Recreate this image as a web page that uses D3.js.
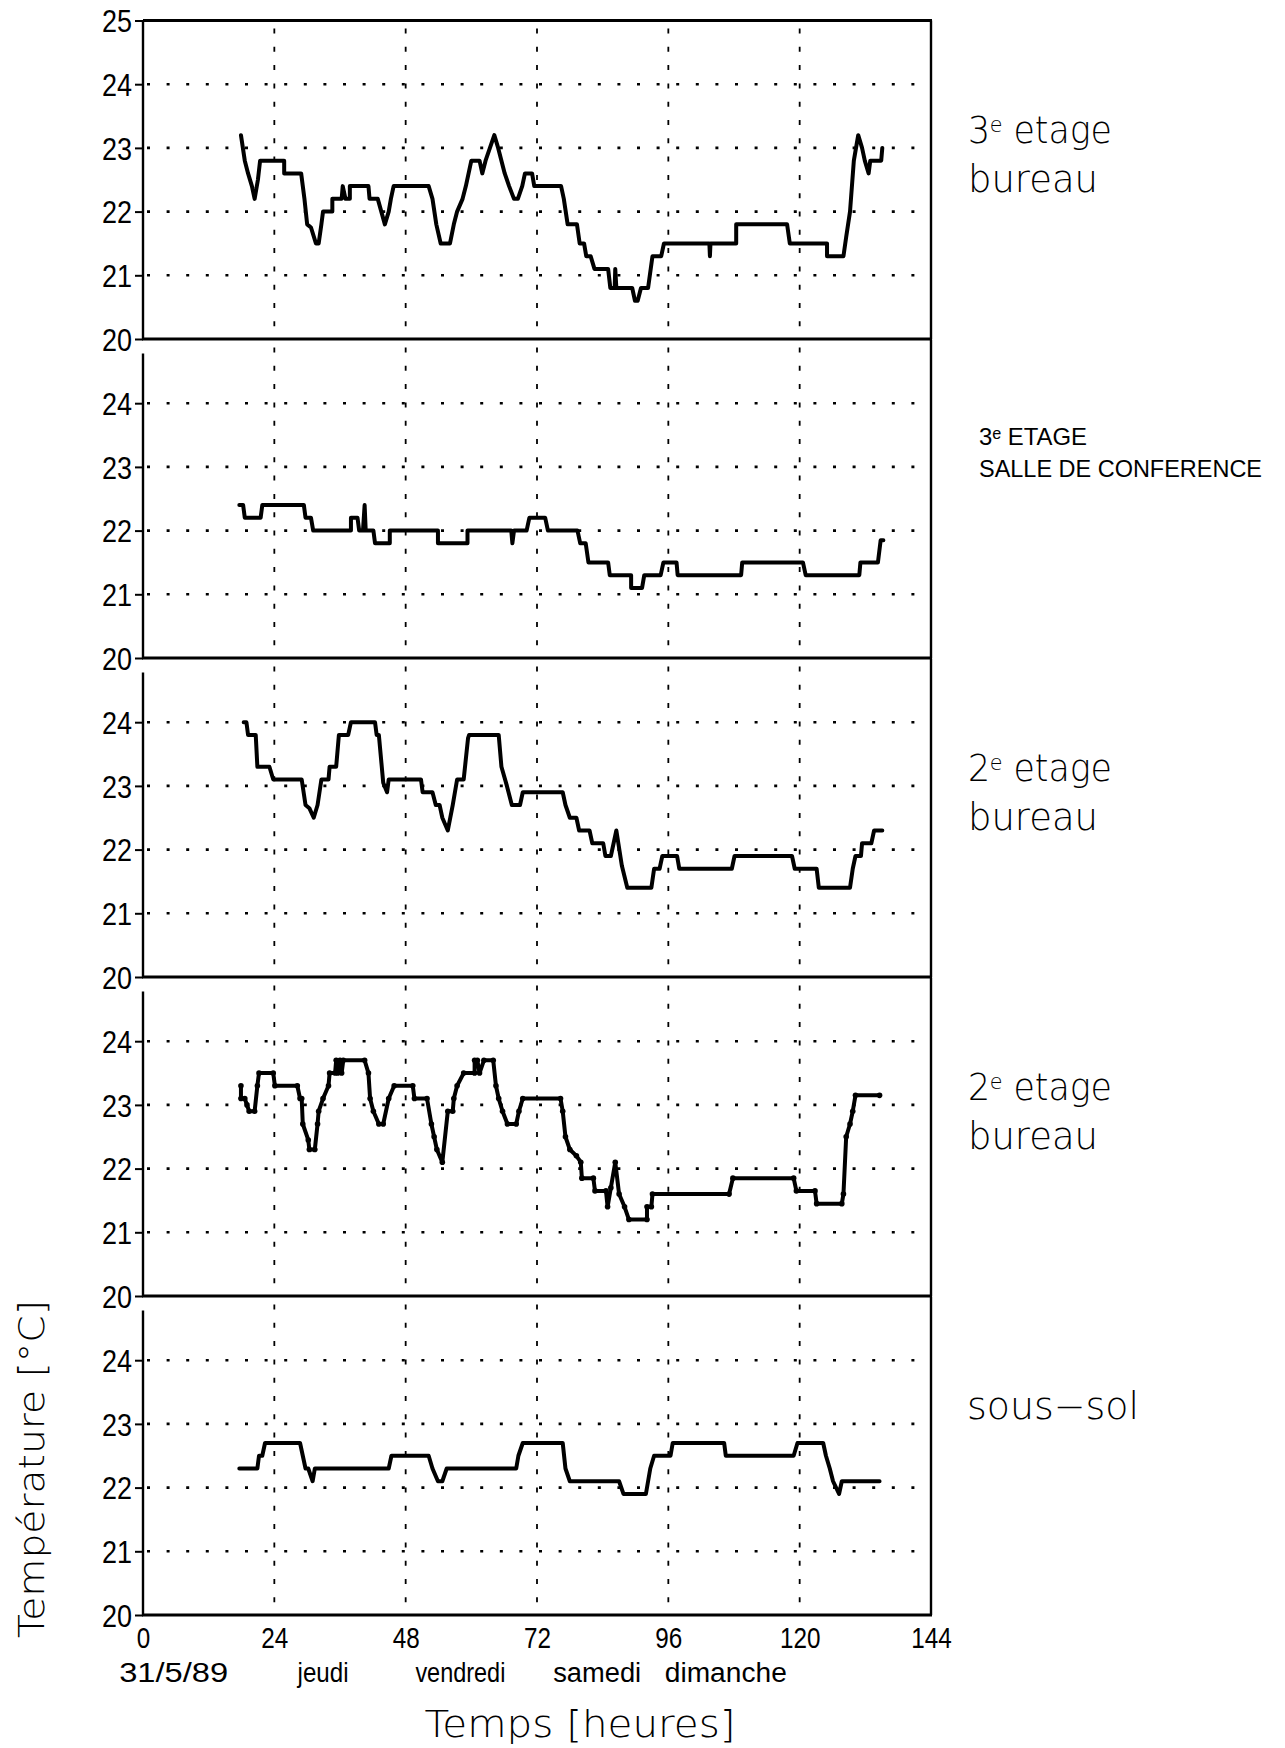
<!DOCTYPE html>
<html>
<head>
<meta charset="utf-8">
<script src="https://cdn.jsdelivr.net/npm/d3@7"></script>
<style>
  html, body { margin: 0; padding: 0; background: #fff; }
  svg { display: block; }
</style>
</head>
<body>
<svg id="chart" width="1285" height="1748"></svg>
<script>
// Temperature readings, [hour since 31/5/89 00h, °C], one array per measuring point
const bureau3e = [
  [17.9,23.2],[18.6,22.8],[19.2,22.6],[19.9,22.4],[20.4,22.2],[21.0,22.5],[21.4,22.8],[25.8,22.8],[25.8,22.6],
  [28.9,22.6],[29.5,22.2],[30.0,21.8],[30.7,21.75],[31.6,21.5],[32.1,21.5],[32.6,21.8],[32.9,22.0],[34.6,22.0],
  [34.6,22.2],[36.3,22.2],[36.5,22.4],[37.0,22.2],[37.8,22.2],[37.8,22.4],[41.2,22.4],[41.4,22.2],[42.9,22.2],
  [44.2,21.8],[44.9,22.0],[45.3,22.2],[45.8,22.4],[52.2,22.4],[52.9,22.2],[53.6,21.8],[54.4,21.5],[56.1,21.5],
  [56.8,21.8],[57.4,22.0],[58.4,22.2],[59.0,22.4],[60.0,22.8],[61.5,22.8],[62.0,22.6],[62.6,22.8],[64.2,23.2],
  [64.9,23.0],[66.1,22.6],[66.9,22.4],[67.8,22.2],[68.5,22.2],[69.3,22.4],[69.8,22.6],[71.1,22.6],[71.5,22.4],
  [76.4,22.4],[76.9,22.2],[77.6,21.8],[79.3,21.8],[79.8,21.5],[80.6,21.5],[81.0,21.3],[81.8,21.3],[82.5,21.1],
  [85.0,21.1],[85.4,20.8],[86.2,20.8],[86.3,21.1],[86.5,20.8],[89.4,20.8],[89.9,20.6],[90.4,20.6],[91.0,20.8],
  [92.3,20.8],[93.1,21.3],[94.7,21.3],[95.2,21.5],[103.5,21.5],[103.6,21.3],[103.7,21.5],[108.4,21.5],[108.4,21.8],
  [117.7,21.8],[118.2,21.5],[125.0,21.5],[125.0,21.3],[128.0,21.3],[128.5,21.6],[129.2,22.0],[129.9,22.8],
  [130.7,23.2],[131.4,23.0],[131.9,22.8],[132.6,22.6],[132.9,22.8],[134.9,22.8],[135.1,23.0]
];

const conference3e = [
  [17.6,22.4],[18.3,22.4],[18.6,22.2],[21.5,22.2],[21.8,22.4],[29.4,22.4],[29.7,22.2],[30.7,22.2],[31.1,22.0],
  [38.0,22.0],[38.0,22.2],[39.2,22.2],[39.5,22.0],[40.2,22.0],[40.5,22.4],[40.7,22.0],[42.1,22.0],[42.4,21.8],
  [45.1,21.8],[45.1,22.0],[53.9,22.0],[53.9,21.8],[59.3,21.8],[59.3,22.0],[67.3,22.0],[67.5,21.8],[67.8,22.0],
  [70.1,22.0],[70.6,22.2],[73.5,22.2],[74.0,22.0],[79.4,22.0],[79.9,21.8],[80.9,21.8],[81.4,21.5],[85.0,21.5],
  [85.3,21.3],[89.2,21.3],[89.2,21.1],[91.2,21.1],[91.6,21.3],[94.6,21.3],[95.1,21.5],[97.5,21.5],[97.7,21.3],
  [109.3,21.3],[109.5,21.5],[120.6,21.5],[121.1,21.3],[130.9,21.3],[131.1,21.5],[134.3,21.5],[134.8,21.85],
  [135.3,21.85]
];

const bureau2eA = [
  [18.4,24.0],[18.9,24.0],[19.2,23.8],[20.6,23.8],[20.9,23.3],[23.1,23.3],[23.8,23.1],[29.0,23.1],[29.7,22.7],
  [30.4,22.65],[31.2,22.5],[31.9,22.7],[32.6,23.1],[33.9,23.1],[34.1,23.3],[35.3,23.3],[35.8,23.8],[37.5,23.8],
  [38.0,24.0],[42.4,24.0],[42.7,23.8],[43.1,23.8],[43.9,23.05],[44.6,22.9],[44.9,23.1],[50.8,23.1],[51.1,22.9],
  [52.9,22.9],[53.5,22.7],[54.2,22.7],[54.7,22.5],[55.7,22.3],[56.6,22.7],[57.4,23.1],[58.6,23.1],[59.4,23.75],
  [59.6,23.8],[65.0,23.8],[65.5,23.3],[66.5,23.0],[67.4,22.7],[68.9,22.7],[69.4,22.9],[76.7,22.9],[77.2,22.7],
  [78.0,22.5],[79.2,22.5],[79.7,22.3],[81.6,22.3],[82.1,22.1],[84.1,22.1],[84.5,21.9],[85.5,21.9],[86.5,22.3],
  [87.5,21.75],[88.5,21.4],[92.9,21.4],[93.4,21.7],[94.4,21.7],[94.9,21.9],[97.6,21.9],[98.0,21.7],[107.6,21.7],
  [108.1,21.9],[118.6,21.9],[119.1,21.7],[123.1,21.7],[123.5,21.4],[129.2,21.4],[129.7,21.7],[130.2,21.9],
  [131.2,21.9],[131.4,22.1],[133.1,22.1],[133.6,22.3],[135.1,22.3]
];

const bureau2eB = [
  [17.9,23.3],[17.9,23.1],[18.6,23.1],[19.0,23.0],[19.4,22.9],[20.4,22.9],[20.9,23.3],[21.2,23.5],[23.8,23.5],
  [24.1,23.3],[28.2,23.3],[28.7,23.1],[29.0,23.1],[29.2,22.7],[30.2,22.45],[30.4,22.3],[31.4,22.3],[31.9,22.7],
  [32.1,22.9],[32.9,23.1],[33.9,23.3],[34.1,23.5],[35.1,23.5],[35.3,23.7],[35.6,23.5],[36.0,23.7],[36.3,23.5],
  [36.6,23.7],[40.5,23.7],[41.2,23.5],[41.5,23.1],[42.1,22.9],[43.1,22.7],[43.9,22.7],[44.9,23.1],[45.9,23.3],
  [49.3,23.3],[49.6,23.1],[51.9,23.1],[52.7,22.7],[53.2,22.5],[53.7,22.3],[54.7,22.1],[55.7,22.9],[56.6,22.9],
  [56.8,23.1],[57.4,23.3],[58.6,23.5],[60.6,23.5],[60.6,23.7],[61.1,23.7],[61.5,23.5],[62.3,23.7],[64.0,23.7],
  [64.5,23.3],[65.0,23.1],[65.7,22.9],[66.6,22.7],[68.2,22.7],[68.7,22.9],[69.4,23.1],[76.3,23.1],[76.7,22.9],
  [77.2,22.5],[78.0,22.3],[79.2,22.2],[80.0,22.1],[80.2,21.85],[82.3,21.85],[82.6,21.65],[84.6,21.65],[84.9,21.4],
  [85.5,21.7],[86.3,22.1],[87.0,21.6],[88.0,21.4],[88.8,21.2],[92.1,21.2],[92.1,21.4],[92.9,21.4],[93.1,21.6],
  [107.1,21.6],[107.8,21.85],[118.9,21.85],[119.4,21.65],[122.8,21.65],[123.1,21.45],[127.7,21.45],[128.0,21.6],
  [128.5,22.5],[129.2,22.7],[129.7,22.9],[130.2,23.15],[134.6,23.15]
];

const sousSol = [
  [17.6,22.3],[20.9,22.3],[21.2,22.5],[21.8,22.5],[22.3,22.7],[28.7,22.7],[29.2,22.5],[29.7,22.3],[30.2,22.3],
  [31.0,22.1],[31.4,22.3],[44.9,22.3],[45.4,22.5],[52.2,22.5],[52.9,22.3],[53.9,22.1],[54.7,22.1],[55.5,22.3],
  [68.2,22.3],[68.6,22.5],[69.4,22.7],[76.7,22.7],[77.2,22.3],[78.0,22.1],[87.0,22.1],[87.8,21.9],[91.9,21.9],
  [92.7,22.3],[93.4,22.5],[96.4,22.5],[96.8,22.7],[106.2,22.7],[106.5,22.5],[118.9,22.5],[119.6,22.7],[124.3,22.7],
  [124.8,22.5],[125.5,22.3],[126.1,22.1],[127.2,21.9],[127.7,22.1],[134.6,22.1]
];

const panelSeries = [bureau3e, conference3e, bureau2eA, bureau2eB, sousSol];
const panelTitles = [
  ["3ᵉ etage", "bureau"],
  ["3ᵉ ETAGE", "SALLE DE CONFERENCE"],
  ["2ᵉ etage", "bureau"],
  ["2ᵉ etage", "bureau"],
  ["sous−sol"]
];
const hourTicks = [0, 24, 48, 72, 96, 120, 144];
const dayNames = ["31/5/89", "jeudi", "vendredi", "samedi", "dimanche"];
const dayHours = [5.6, 32.9, 58.0, 83.0, 106.5];
const tempDomain = [20, 25];
const tempTicksTop = [20, 21, 22, 23, 24, 25];
const tempTicks = [20, 21, 22, 23, 24];
const xTitle = "Temps [heures]";
const yTitle = "Température [°C]";

// ---- layout ----
const plotLeft = 143, plotRight = 931;
const panelTop0 = 20.5, panelPitch = 319, panelHeight = 318.5;
const nPanels = panelSeries.length;
const lightFont = "'DejaVu Sans', 'Noto Sans', sans-serif";
const tickFont = "'Liberation Sans', 'DejaVu Sans', sans-serif";
const dayWidths = [109, 51, 90, 88, 122];

const svg = d3.select("#chart");
svg.append("rect").attr("width", 1285).attr("height", 1748).attr("fill", "#fff");

const x = d3.scaleLinear().domain([0, 144]).range([plotLeft, plotRight]);

const titleStyle = [
  { font: lightFont, size: 37, weight: 200, lines: [{ y: 122.5, len: 144 }, { y: 171.5, len: 130 }], x: 968 },
  { font: tickFont, size: 24, weight: 400, lines: [{ y: 105, len: 108 }, { y: 137, len: 283 }], x: 979 },
  { font: lightFont, size: 37, weight: 200, lines: [{ y: 122.5, len: 144 }, { y: 171.5, len: 130 }], x: 968 },
  { font: lightFont, size: 37, weight: 200, lines: [{ y: 122.5, len: 144 }, { y: 171.5, len: 130 }], x: 968 },
  { font: lightFont, size: 37, weight: 200, lines: [{ y: 122.5, len: 172 }], x: 967 }
];

panelSeries.forEach((series, k) => {
  const top = panelTop0 + panelPitch * k;
  const bottom = top + panelHeight;
  const y = d3.scaleLinear().domain(tempDomain).range([bottom, top]);
  const g = svg.append("g");

  // horizontal dotted grid
  g.selectAll("line.hgrid").data([21, 22, 23, 24]).join("line")
    .attr("x1", plotLeft + 4).attr("x2", plotRight)
    .attr("y1", d => y(d)).attr("y2", d => y(d))
    .attr("stroke", "#000").attr("stroke-width", 2.6)
    .attr("stroke-dasharray", "3 16.6");

  // vertical dashed grid
  g.selectAll("line.vgrid").data(hourTicks.slice(1, -1)).join("line")
    .attr("x1", d => x(d)).attr("x2", d => x(d))
    .attr("y1", top + 8).attr("y2", bottom)
    .attr("stroke", "#000").attr("stroke-width", 1.8)
    .attr("stroke-dasharray", "5 13.3");

  // frame: left axis, bottom, right edge
  g.append("line").attr("x1", plotLeft).attr("x2", plotLeft)
    .attr("y1", k === 0 ? top : top + 14).attr("y2", bottom)
    .attr("stroke", "#000").attr("stroke-width", 2.4);
  g.append("line").attr("x1", plotLeft - 1).attr("x2", plotRight + 1)
    .attr("y1", bottom).attr("y2", bottom)
    .attr("stroke", "#000").attr("stroke-width", 3);
  g.append("line").attr("x1", plotRight).attr("x2", plotRight)
    .attr("y1", top).attr("y2", bottom)
    .attr("stroke", "#000").attr("stroke-width", 2.4);
  if (k === 0) {
    g.append("line").attr("x1", plotLeft).attr("x2", plotRight + 1)
      .attr("y1", top).attr("y2", top)
      .attr("stroke", "#000").attr("stroke-width", 3);
  }

  // temperature axis
  const yAxis = d3.axisLeft(y).tickValues(k === 0 ? tempTicksTop : tempTicks)
    .tickSize(8).tickPadding(3).tickFormat(d3.format("d"));
  const ya = g.append("g").attr("transform", `translate(${plotLeft},0)`).call(yAxis);
  ya.select(".domain").remove();
  ya.selectAll(".tick line").attr("stroke", "#000").attr("stroke-width", 2);
  ya.selectAll(".tick text").attr("font-family", tickFont).attr("font-size", 31)
    .attr("fill", "#000").attr("dy", "0.36em")
    .attr("textLength", d => String(d).length * 15).attr("lengthAdjust", "spacingAndGlyphs");

  // temperature trace
  const line = d3.line().x(d => x(d[0])).y(d => y(d[1]));
  g.append("path").datum(series).attr("d", line)
    .attr("fill", "none").attr("stroke", "#000").attr("stroke-width", 4)
    .attr("stroke-linejoin", "round").attr("stroke-linecap", "round");
  if (series === bureau2eB) {
    g.selectAll("circle.pt").data(series).join("circle")
      .attr("cx", d => x(d[0])).attr("cy", d => y(d[1])).attr("r", 2.8).attr("fill", "#000");
  }

  // location title
  const st = titleStyle[k];
  panelTitles[k].forEach((txt, i) => {
    g.append("text").attr("x", st.x).attr("y", top + st.lines[i].y)
      .attr("font-family", st.font).attr("font-weight", st.weight)
      .attr("font-size", st.size).attr("fill", "#000")
      .attr("textLength", st.lines[i].len).attr("lengthAdjust", "spacingAndGlyphs")
      .text(txt);
  });

  // hour axis under the last panel
  if (k === nPanels - 1) {
    const xAxis = d3.axisBottom(x).tickValues(hourTicks).tickSize(0).tickPadding(12)
      .tickFormat(d3.format("d"));
    const xa = g.append("g").attr("transform", `translate(0,${bottom})`).call(xAxis);
    xa.select(".domain").remove();
    xa.selectAll(".tick text").attr("font-family", tickFont).attr("font-size", 30).attr("fill", "#000")
      .attr("textLength", d => String(d).length * 13.5).attr("lengthAdjust", "spacingAndGlyphs");

    g.selectAll("text.day").data(dayNames).join("text")
      .attr("x", (d, i) => x(dayHours[i])).attr("y", bottom + 67)
      .attr("text-anchor", "middle").attr("font-family", tickFont).attr("font-size", 27)
      .attr("fill", "#000")
      .attr("textLength", (d, i) => dayWidths[i]).attr("lengthAdjust", "spacingAndGlyphs")
      .text(d => d);
  }
});

// axis titles
svg.append("text").attr("x", 580).attr("y", 1737).attr("text-anchor", "middle")
  .attr("font-family", lightFont).attr("font-weight", 200).attr("font-size", 38)
  .attr("textLength", 311).attr("lengthAdjust", "spacingAndGlyphs").text(xTitle);

svg.append("text").attr("transform", "translate(44,1469) rotate(-90)")
  .attr("text-anchor", "middle")
  .attr("font-family", lightFont).attr("font-weight", 200).attr("font-size", 36)
  .attr("textLength", 338).attr("lengthAdjust", "spacingAndGlyphs").text(yTitle);
</script>
</body>
</html>
